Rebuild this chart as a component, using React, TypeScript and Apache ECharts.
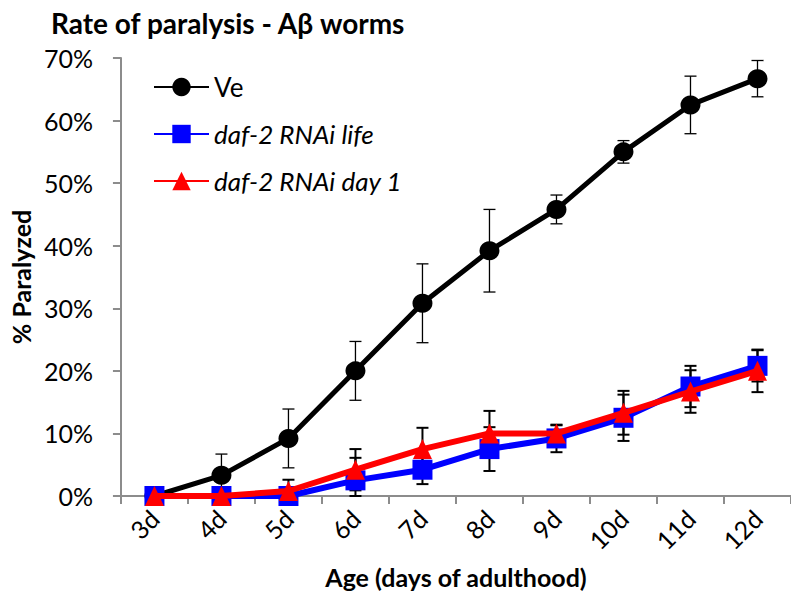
import React, { useEffect, useRef } from 'react';
import * as echarts from 'echarts';

const categories = ['3d', '4d', '5d', '6d', '7d', '8d', '9d', '10d', '11d', '12d'];
const seriesNames = ['Ve', 'daf-2 RNAi life', 'daf-2 RNAi day 1'];
const veValues = [0, 3.3, 9.2, 20, 30.8, 39.2, 45.8, 55, 62.5, 66.7];
const veErrors = [0, 3.4, 4.7, 4.7, 6.3, 6.6, 2.3, 1.8, 4.6, 2.9];
const lifeValues = [0, 0, 0, 2.5, 4.2, 7.5, 9.2, 12.5, 17.5, 20.8];
const lifeErrors = [0, 0, 0, 3.6, 2.3, 3.5, 2.2, 3.7, 3.3, 2.5];
const day1Values = [0, 0, 0.8, 4.2, 7.5, 10, 10, 13.3, 16.7, 20];
const day1Errors = [0, 0, 1.8, 3.3, 3.4, 3.6, 1.3, 3.5, 3.4, 3.4];
const yMin = 0;
const yMax = 70;
const yInterval = 10;

const FONT = 'Lato, "Open Sans", sans-serif';

function errData(values: number[], errors: number[]) {
  return values.map((v, i) => [i, Math.max(0, v - errors[i]), v + errors[i], errors[i]]);
}

function errSeries(name: string, values: number[], errors: number[], lw: number) {
  return {
    type: 'custom',
    name: name + ' error',
    z: 1,
    silent: true,
    data: errData(values, errors),
    renderItem: (params: any, api: any) => {
      if (api.value(3) <= 0) return null;
      const x = api.value(0);
      const top = api.coord([x, api.value(2)]);
      const bot = api.coord([x, api.value(1)]);
      const hw = 6;
      const style = { stroke: '#000', lineWidth: lw };
      return {
        type: 'group',
        children: [
          { type: 'line', shape: { x1: top[0], y1: top[1], x2: bot[0], y2: bot[1] }, style },
          { type: 'line', shape: { x1: top[0] - hw, y1: top[1], x2: top[0] + hw, y2: top[1] }, style },
          { type: 'line', shape: { x1: bot[0] - hw, y1: bot[1], x2: bot[0] + hw, y2: bot[1] }, style },
        ],
      };
    },
  };
}

export default function App() {
  const ref = useRef<HTMLDivElement>(null);
  useEffect(() => {
    if (!ref.current) return;
    const chart = echarts.init(ref.current, null, { renderer: 'svg' });
    chart.setOption({
      animation: false,
      backgroundColor: '#fff',
      title: {
        text: 'Rate of paralysis - Aβ worms',
        left: 46,
        top: 4,
        textStyle: { fontFamily: FONT, fontWeight: 'bold', fontSize: 28, color: '#000' },
      },
      legend: {
        data: seriesNames,
        orient: 'vertical',
        left: 148,
        top: 69,
        itemWidth: 55,
        itemHeight: 23,
        itemGap: 21,
        textStyle: {
          fontFamily: FONT,
          fontSize: 26,
          color: '#000',
          rich: {
            n: { fontFamily: FONT, fontSize: 26, lineHeight: 26, fontStyle: 'normal', color: '#000' },
            i: { fontFamily: FONT, fontSize: 26, lineHeight: 26, fontStyle: 'italic', color: '#000' },
          },
        },
        formatter: (name: string) => (name === 'Ve' ? `{n|${name}}` : `{i|${name}}`),
      },
      grid: { left: 118, top: 58, width: 678, height: 438, containLabel: false },
      xAxis: {
        type: 'category',
        data: categories,
        boundaryGap: true,
        name: 'Age (days of adulthood)',
        nameLocation: 'middle',
        nameGap: 68,
        nameTextStyle: { fontFamily: FONT, fontWeight: 'bold', fontSize: 25, color: '#000' },
        axisLine: { lineStyle: { color: '#8c8c8c', width: 2 } },
        axisTick: { show: true, length: 8, lineStyle: { color: '#8c8c8c', width: 2 } },
        axisLabel: {
          rotate: 45,
          margin: 18,
          fontFamily: FONT,
          fontSize: 25,
          color: '#000',
        },
        splitLine: { show: false },
      },
      yAxis: {
        type: 'value',
        min: yMin,
        max: yMax,
        interval: yInterval,
        name: '% Paralyzed',
        nameLocation: 'middle',
        nameRotate: 90,
        nameGap: 84,
        nameTextStyle: { fontFamily: FONT, fontWeight: 'bold', fontSize: 25, color: '#000' },
        axisLine: { show: true, lineStyle: { color: '#8c8c8c', width: 2 } },
        axisTick: { show: true, length: 8, lineStyle: { color: '#8c8c8c', width: 2 } },
        axisLabel: {
          formatter: '{value}%',
          margin: 28,
          fontFamily: FONT,
          fontSize: 25,
          color: '#000',
        },
        splitLine: { show: false },
      },
      series: [
        errSeries('Ve', veValues, veErrors, 1.3),
        errSeries('daf-2 RNAi life', lifeValues, lifeErrors, 2),
        errSeries('daf-2 RNAi day 1', day1Values, day1Errors, 2),
        {
          name: 'Ve',
          type: 'line',
          data: veValues,
          z: 3,
          symbol: 'circle',
          symbolSize: [20, 19],
          lineStyle: { color: '#000', width: 5 },
          itemStyle: { color: '#000' },
        },
        {
          name: 'daf-2 RNAi life',
          type: 'line',
          data: lifeValues,
          z: 4,
          symbol: 'rect',
          symbolSize: 20,
          lineStyle: { color: '#0000ff', width: 6 },
          itemStyle: { color: '#0000ff' },
        },
        {
          name: 'daf-2 RNAi day 1',
          type: 'line',
          data: day1Values,
          z: 5,
          symbol: 'triangle',
          symbolSize: [19, 20],
          lineStyle: { color: '#ff0000', width: 6 },
          itemStyle: { color: '#ff0000' },
        },
      ],
    });
    return () => chart.dispose();
  }, []);
  return <div ref={ref} style={{ width: 791, height: 596, position: 'absolute', left: 0, top: 0 }} />;
}
